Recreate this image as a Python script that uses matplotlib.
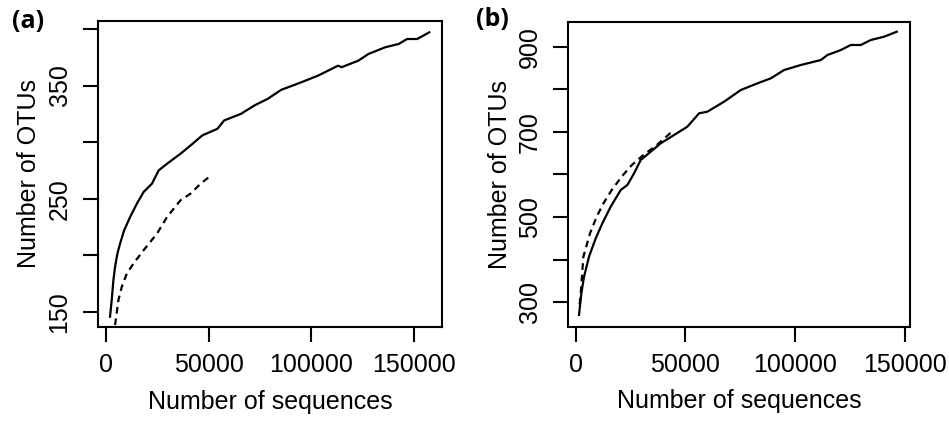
import matplotlib
matplotlib.use('Agg')
from matplotlib import pyplot as plt

plt.rcParams['font.family'] = ['Liberation Sans', 'DejaVu Sans']

# panel (a): rarefaction curves
a_solid_x = [1960, 2780, 3600, 4410, 5560, 6860, 8820, 11760, 15030, 18300,
             22390, 25650, 29740, 36280, 41180, 46900, 54250, 57520, 65690,
             72220, 78760, 85290, 95100, 103270, 113070, 114700, 122900,
             127800, 135950, 142500, 146600, 151500, 157400]
a_solid_y = [145.9, 160.6, 178.2, 190.0, 201.7, 210.5, 222.2, 234.0, 245.7,
             256.0, 263.4, 275.1, 281.0, 289.8, 297.1, 306.0, 311.8, 319.2,
             325.0, 332.4, 338.3, 346.2, 352.9, 358.8, 367.6, 366.2, 372.0,
             377.9, 383.8, 386.7, 391.1, 391.1, 397.0]
a_dash_x = [4410, 6050, 7680, 10130, 13400, 18300, 24840, 29740, 36280,
            41180, 46080, 50160]
a_dash_y = [138.5, 160.6, 172.3, 184.0, 192.9, 204.6, 219.3, 234.0, 248.7,
            254.6, 263.4, 269.2]

# panel (b)
b_solid_x = [1520, 2580, 3800, 6080, 9120, 12160, 15960, 20520, 23560, 26600,
             29640, 34200, 38750, 44830, 50910, 56230, 60030, 67630, 75230,
             82830, 88910, 94990, 102580, 111700, 114740, 120820, 125380,
             129940, 134500, 140580, 146350]
b_solid_y = [270.3, 321.1, 360.2, 407.2, 450.2, 485.4, 524.5, 563.6, 575.4,
             602.7, 634.0, 653.6, 673.2, 692.7, 712.3, 743.6, 747.5, 770.9,
             798.3, 814.0, 825.7, 845.3, 857.0, 868.7, 880.5, 892.2, 904.0,
             904.0, 915.7, 923.5, 935.2]
b_dash_x = [1800, 2300, 3500, 6530, 9570, 12610, 16410, 20970, 25530, 30850,
            36930, 43010, 44070]
b_dash_y = [295.0, 321.0, 407.0, 462.0, 501.0, 532.0, 563.6, 595.0, 622.0,
            645.8, 669.0, 696.6, 697.5]

x_ticks = [0, 50000, 100000, 150000]
a_yticks = [150, 200, 250, 300, 350, 400]
a_ylabels = ['150', '', '250', '', '350', '']
b_yticks = [300, 400, 500, 600, 700, 800, 900]
b_ylabels = ['300', '', '500', '', '700', '', '900']

fig = plt.figure(figsize=(9.49, 4.23), dpi=100)
ax_a = fig.add_axes([98 / 949, 1 - 327 / 423, 344 / 949, 306 / 423])
ax_b = fig.add_axes([568.3 / 949, 1 - 326.7 / 423, 341.7 / 949, 305 / 423])


def style(ax, yticks, ylabels, xlim, ylim):
    ax.set_xlim(*xlim)
    ax.set_ylim(*ylim)
    ax.set_xticks(x_ticks)
    ax.set_xticklabels([str(t) for t in x_ticks])
    ax.set_yticks(yticks)
    ax.set_yticklabels(ylabels)
    for s in ax.spines.values():
        s.set_linewidth(1.5)
    ax.tick_params(direction='out', length=11, width=1.5, labelsize=18,
                   pad=8)
    for lab in ax.get_yticklabels():
        lab.set_rotation(90)
        lab.set_va('center')
    ax.set_xlabel('Number of sequences', fontsize=18)
    ax.set_ylabel('Number of OTUs', fontsize=18)
    ax.xaxis.set_label_coords(0.5, -0.205)
    ax.yaxis.set_label_coords(-0.165, 0.5)


for ax, sx, sy, dx, dy in [(ax_a, a_solid_x, a_solid_y, a_dash_x, a_dash_y),
                           (ax_b, b_solid_x, b_solid_y, b_dash_x, b_dash_y)]:
    ax.plot(sx, sy, color='black', lw=1.6)
    ax.plot(dx, dy, color='black', lw=1.6, linestyle=(0, (3, 2.2)))

style(ax_a, a_yticks, a_ylabels, (-3900, 163600), (136.8, 407))
style(ax_b, b_yticks, b_ylabels, (-3370, 152370), (242.7, 958.7))

fig.text(28 / 949, 1 - 22 / 423, '(a)', fontsize=18, fontweight='bold',
         family='Open Sans', ha='center', va='center')
fig.text(492 / 949, 1 - 20 / 423, '(b)', fontsize=18, fontweight='bold',
         family='Open Sans', ha='center', va='center')

fig.savefig('out.png', dpi=100)
